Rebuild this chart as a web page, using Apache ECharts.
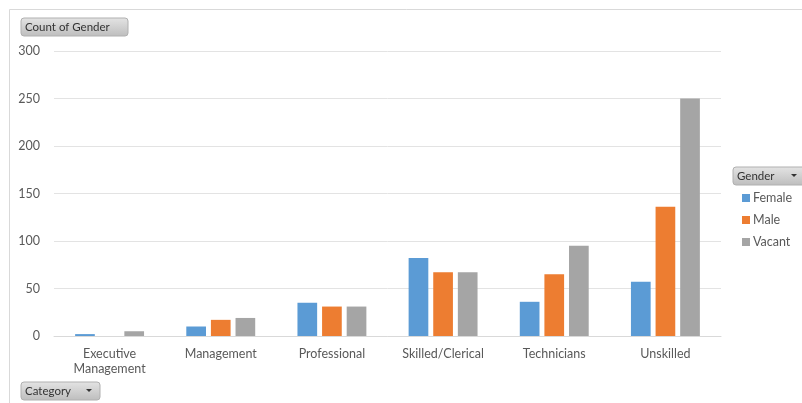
<!DOCTYPE html>
<html>
<head>
<meta charset="utf-8">
<script src="https://cdn.jsdelivr.net/npm/echarts@6/dist/echarts.min.js"></script>
<style>
  html, body { margin: 0; padding: 0; background: #fff; }
  #chart { width: 802px; height: 403px; }
</style>
</head>
<body>
<div id="chart"></div>
<script>
// Headcount per job category, split by gender
const categories = ['Executive\nManagement', 'Management', 'Professional', 'Skilled/Clerical', 'Technicians', 'Unskilled'];
const female = [2, 10, 35, 82, 36, 57];
const male   = [0, 17, 31, 67, 65, 136];
const vacant = [5, 19, 31, 67, 95, 250];
const yTicks = { min: 0, max: 300, interval: 50 };

const FONT = 'Lato, "Open Sans", sans-serif';
const chart = echarts.init(document.getElementById('chart'), null, { renderer: 'canvas' });

// Grey pivot-style field button
function fieldButton(x, y, w, label, arrow) {
  const children = [
    {
      type: 'rect',
      shape: { x: 0, y: 0, width: w, height: 18, r: 3 },
      style: {
        fill: new echarts.graphic.LinearGradient(0, 0, 0, 1, [
          { offset: 0, color: '#e4e4e4' },
          { offset: 1, color: '#bdbdbd' }
        ]),
        stroke: '#b0b0b0', lineWidth: 1
      }
    },
    {
      type: 'text',
      style: { x: 4, y: 9, text: label, fill: '#333', font: '11.5px ' + FONT, verticalAlign: 'middle' }
    }
  ];
  if (arrow) {
    children.push({
      type: 'polygon',
      shape: { points: [[w - 14, 7], [w - 8, 7], [w - 11, 10]] },
      style: { fill: '#333' }
    });
  }
  return { type: 'group', x: x, y: y, children: children };
}

const barStyle = (c) => ({ color: c });

chart.setOption({
  backgroundColor: '#fff',
  animation: false,
  textStyle: { fontFamily: FONT },
  graphic: [
    {
      type: 'rect',
      shape: { x: 9.5, y: 9.5, width: 800, height: 400 },
      style: { fill: 'none', stroke: '#d9d9d9', lineWidth: 1 },
      silent: true
    },
    fieldButton(21, 18, 107, 'Count of Gender', false),
    fieldButton(21, 382, 79, 'Category', true),
    fieldButton(733, 167, 72, 'Gender', true)
  ],
  legend: {
    orient: 'vertical',
    left: 737,
    top: 186,
    itemWidth: 8,
    itemHeight: 8,
    itemGap: 8,
    icon: 'rect',
    textStyle: { color: '#595959', fontSize: 12.5, fontFamily: FONT, padding: [0, 0, 0, -2], lineHeight: 14 },
    data: ['Female', 'Male', 'Vacant']
  },
  grid: { left: 54, right: 81, top: 51, bottom: 67, containLabel: false },
  xAxis: {
    type: 'category',
    data: categories,
    axisLine: { show: true, lineStyle: { color: '#d9d9d9' } },
    axisTick: { show: false },
    axisLabel: { color: '#595959', fontSize: 12.5, fontFamily: FONT, margin: 10, interval: 0, lineHeight: 15 }
  },
  yAxis: {
    type: 'value',
    min: yTicks.min,
    max: yTicks.max,
    interval: yTicks.interval,
    axisLine: { show: false },
    axisTick: { show: false },
    splitLine: { lineStyle: { color: '#e3e3e3' } },
    axisLabel: { color: '#595959', fontSize: 12.5, fontFamily: FONT, margin: 14 }
  },
  series: [
    { name: 'Female', type: 'bar', data: female, itemStyle: barStyle('#5b9bd5'), barGap: '25%', barCategoryGap: '38%' },
    { name: 'Male', type: 'bar', data: male, itemStyle: barStyle('#ed7d31'), barGap: '25%', barCategoryGap: '38%' },
    { name: 'Vacant', type: 'bar', data: vacant, itemStyle: barStyle('#a5a5a5'), barGap: '25%', barCategoryGap: '38%' }
  ]
});
</script>
</body>
</html>
